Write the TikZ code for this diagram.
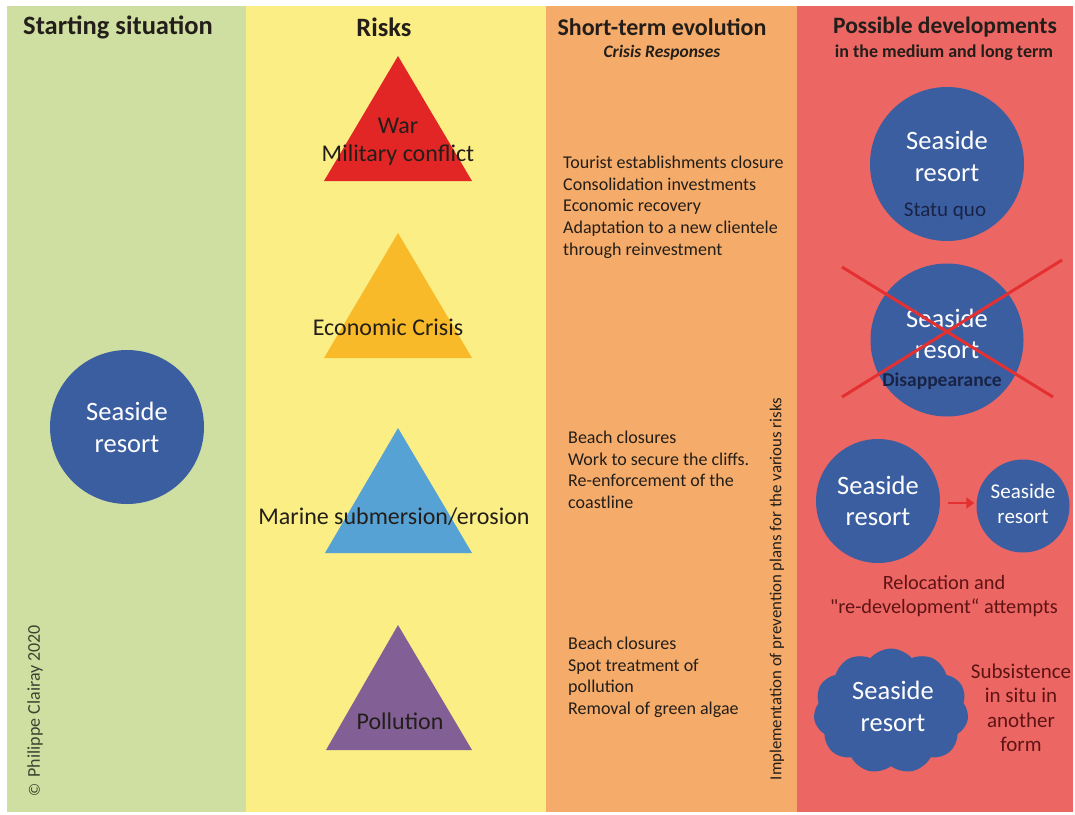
\documentclass[tikz,border=0pt]{standalone}
\usepackage{fontspec}
\setmainfont{Carlito}
\usetikzlibrary{shapes.symbols,arrows.meta}
\definecolor{cgreen}{RGB}{207,222,161}
\definecolor{cyellow}{RGB}{250,238,132}
\definecolor{corange}{RGB}{245,172,106}
\definecolor{cred}{RGB}{236,102,100}
\definecolor{cblue}{RGB}{59,94,161}
\definecolor{tred}{RGB}{226,38,38}
\definecolor{torange}{RGB}{248,186,40}
\definecolor{tblue}{RGB}{86,162,212}
\definecolor{tpurple}{RGB}{130,96,150}
\definecolor{dtext}{RGB}{35,30,25}
\definecolor{dred}{RGB}{95,20,20}
\definecolor{xred}{RGB}{228,48,48}
\definecolor{dgray}{RGB}{60,68,48}
\definecolor{dblue}{RGB}{25,35,70}
\tikzset{
  ttl/.style={font=\bfseries\fontsize{26.5}{30}\selectfont, text=dtext, inner sep=0pt},
  subttl/.style={font=\bfseries\fontsize{18}{20}\selectfont, text=dtext, inner sep=0pt},
  risk/.style={font=\fontsize{24}{28}\selectfont, text=dtext, inner sep=0pt},
  resp/.style={font=\fontsize{18}{21.6}\selectfont, text=dtext, inner sep=0pt, anchor=north west, align=left},
  resort/.style={circle, fill=cblue, inner sep=0pt},
  wtxt/.style={text=white, inner sep=0pt, font=\fontsize{26.5}{30}\selectfont},
  dtxt/.style={text=dred, inner sep=0pt, font=\fontsize{21}{24.5}\selectfont, align=center}
}
\begin{document}
\begin{tikzpicture}[x=1pt,y=-1pt]
\useasboundingbox (0,0) rectangle (1075,814);
\fill[white] (0,0) rectangle (1075,814);
% columns
\fill[cgreen] (7,6) rectangle (246,812);
\fill[cyellow] (246,6) rectangle (546,812);
\fill[corange] (546,6) rectangle (797,812);
\fill[cred] (797,6) rectangle (1073,812);
% titles
\node[ttl] (t1) at (118,27) {Starting situation};
\node[ttl] (t2) at (384,27) {Risks};
\node[ttl, font=\bfseries\fontsize{24}{28}\selectfont] (t3) at (662,27) {Short-term evolution};
\node[subttl, font=\bfseries\itshape\fontsize{17.5}{20}\selectfont] (s3) at (662,53) {Crisis Responses};
\node[ttl, font=\bfseries\fontsize{23.5}{28}\selectfont] (t4) at (945,27) {Possible developments};
\node[subttl] (s4) at (944,53) {in the medium and long term};
% starting situation
\node[resort, minimum size=154pt] (start) at (127,427) {};
\node[wtxt] (startA) at (127,411) {Seaside};
\node[wtxt] (startB) at (127,444) {resort};
\node[rotate=90, text=dgray, inner sep=0pt] (copy) at (35,711) {\fontspec{DejaVu Sans}\fontsize{15}{18}\selectfont ©\ \fontspec{Carlito}\fontsize{18}{21}\selectfont Philippe Clairay 2020};
% risks
\fill[tred] (398,56) -- (472,181) -- (324,181) -- cycle;
\fill[torange] (398,233) -- (472,358) -- (324,358) -- cycle;
\fill[tblue] (398,428) -- (472,553) -- (325,553) -- cycle;
\fill[tpurple] (398,625) -- (472,750) -- (326,750) -- cycle;
\node[risk] (war) at (398,126) {War};
\node[risk] (mil) at (398,155) {Military conflict};
\node[risk] (eco) at (388,327) {Economic Crisis};
\node[risk] (mar) at (394,517) {Marine submersion/erosion};
\node[risk] (pol) at (400,721) {Pollution};
% responses
\node[resp] (r1) at (563,156) {Tourist establishments closure\\Consolidation investments\\Economic recovery\\Adaptation to a new clientele\\through reinvestment};
\node[resp] (r2) at (568,431) {Beach closures\\Work to secure the cliffs.\\Re-enforcement of the\\coastline};
\node[resp] (r3) at (568,637) {Beach closures\\Spot treatment of\\pollution\\Removal of green algae};
\node[rotate=90, text=dtext, inner sep=0pt, font=\fontsize{16.8}{19}\selectfont] (impl) at (777,589) {Implementation of prevention plans for the various risks};
% developments
\node[resort, minimum size=154pt] (sq) at (947,164) {};
\node[wtxt] (sqA) at (947,140) {Seaside};
\node[wtxt] (sqB) at (947,173) {resort};
\node[text=dblue, inner sep=0pt, font=\fontsize{21}{24}\selectfont] (sqC) at (945,211) {Statu quo};
\node[resort, minimum size=153pt] (dis) at (947,340) {};
\node[wtxt] (disA) at (947,318) {Seaside};
\node[wtxt] (disB) at (947,350) {resort};
\node[text=dblue, inner sep=0pt, font=\bfseries\fontsize{19.5}{22}\selectfont] (disC) at (942,381) {Disappearance};
\coordinate (xa) at (842,267);
\coordinate (xb) at (1053,397);
\coordinate (xc) at (1062,260);
\coordinate (xd) at (842,397);
\draw[xred, line width=3pt] (xa) -- (xb);
\draw[xred, line width=3pt] (xc) -- (xd);
\node[resort, minimum size=124pt] (big) at (878,501) {};
\node[wtxt] (bigA) at (878,485) {Seaside};
\node[wtxt] (bigB) at (878,517) {resort};
\node[resort, minimum size=93pt] (small) at (1023,506) {};
\node[wtxt, font=\fontsize{21}{24}\selectfont] (smA) at (1023,491) {Seaside};
\node[wtxt, font=\fontsize{21}{24}\selectfont] (smB) at (1023,517) {resort};
\draw[xred, line width=2.5pt, -{Triangle[length=8pt,width=11pt]}, shorten <=8pt, shorten >=2pt] (big.east |- 0,503) -- (small.west |- 0,503);
\node[dtxt, font=\fontsize{20.3}{24.5}\selectfont] (reloc) at (944,596) {Relocation and\\\textquotedbl re-development“ attempts};
\node[cloud, cloud puffs=11, cloud puff arc=100, aspect=1.3, fill=cblue, minimum width=155pt, minimum height=125pt, inner sep=0pt] (cl) at (891,711) {};
\node[wtxt] (clA) at (893,690) {Seaside};
\node[wtxt] (clB) at (893,723) {resort};
\node[dtxt] (subs) at (1021,708) {Subsistence\\in situ in\\another\\form};
\end{tikzpicture}
\end{document}
